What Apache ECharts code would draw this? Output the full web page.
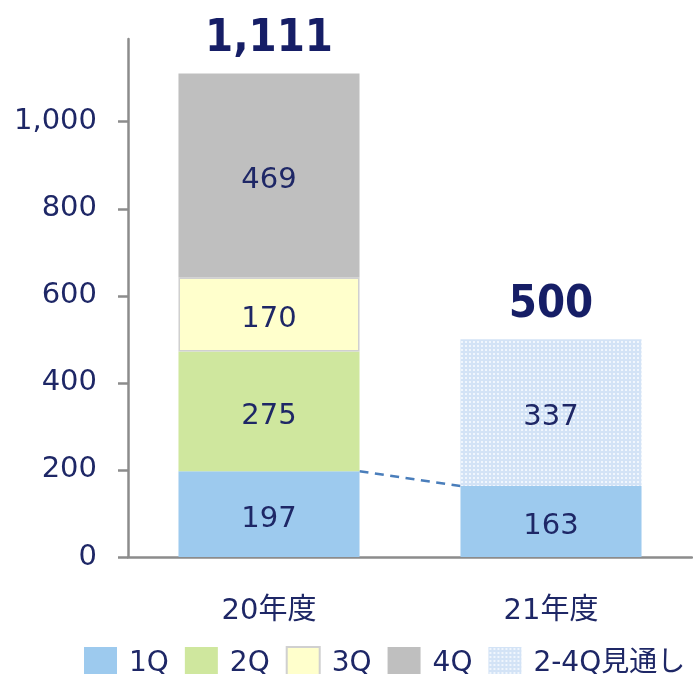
<!DOCTYPE html>
<html>
<head>
<meta charset="utf-8">
<script src="https://cdn.jsdelivr.net/npm/echarts@6/dist/echarts.min.js"></script>
<style>
html,body{margin:0;padding:0;background:#fff;}
#c{width:693px;height:674px;}
</style>
</head>
<body>
<div id="c"></div>
<script>
// ---- data ----
const categories = ['20年度', '21年度'];
const q1 = [197, 163];
const q2 = [275, null];
const q3 = [170, null];
const q4 = [469, null];
const outlook = [null, 337];
const totals = [1111, 500];
const yTicks = [0, 200, 400, 600, 800, 1000];
const legendNames = ['1Q', '2Q', '3Q', '4Q', '2-4Q見通し'];

// ---- style ----
const NAVY = '#1E2766';
const NAVY_BOLD = '#161E66';
const AXIS = '#8C8C8C';
const FONT = "'DejaVu Sans', 'Noto Sans CJK JP', sans-serif";
const BAR_RATIO = 0.642;

const pc = document.createElement('canvas');
pc.width = 4; pc.height = 4;
const px = pc.getContext('2d');
px.fillStyle = '#D3E3F6'; px.fillRect(0, 0, 4, 4);
px.fillStyle = '#F0F6FD'; px.fillRect(1, 1, 2, 2);
const patternColor = { image: pc, repeat: 'repeat' };

const chart = echarts.init(document.getElementById('c'), null, { renderer: 'canvas' });

const inLabel = {
  show: true, position: 'inside', color: NAVY, fontSize: 29, fontFamily: FONT,
  offset: [0, 5]
};

function barSeries(name, data, itemStyle) {
  return {
    name: name, type: 'bar', stack: 'total', data: data,
    barWidth: (BAR_RATIO * 100) + '%',
    itemStyle: itemStyle, label: inLabel, z: 3,
    emphasis: { disabled: true }
  };
}

chart.setOption({
  animation: false,
  backgroundColor: '#fff',
  grid: { left: 128, right: 1, top: 39, bottom: 117 },
  xAxis: [{
    type: 'category', data: categories,
    axisLine: { lineStyle: { color: AXIS, width: 2.5 } },
    axisTick: { length: 9, lineStyle: { color: AXIS, width: 2.5 } },
    axisLabel: { color: NAVY, fontSize: 29, fontFamily: FONT, margin: 40 }
  }, {
    type: 'value', min: 0, max: 2, show: false
  }],
  yAxis: {
    type: 'value', min: 0, max: 1190,
    splitLine: { show: false },
    axisLine: { show: true, lineStyle: { color: AXIS, width: 2.5 } },
    axisTick: { show: true, length: 10, customValues: yTicks, lineStyle: { color: AXIS, width: 2.5 } },
    axisLabel: {
      color: NAVY, fontSize: 29, fontFamily: FONT, margin: 31,
      customValues: yTicks,
      formatter: v => v.toLocaleString('en-US')
    }
  },
  legend: {
    data: legendNames, icon: 'rect', left: 84, top: 646, padding: 0,
    itemWidth: 33, itemHeight: 33, itemGap: 16,
    textStyle: { color: NAVY, fontSize: 28, fontFamily: FONT, padding: [0, 0, 0, 7] }
  },
  series: [
    {
      name: 'line', type: 'line', xAxisIndex: 1, z: 2, symbol: 'none',
      data: [[0.5 + BAR_RATIO / 2, q1[0]], [1.5 - BAR_RATIO / 2, q1[1]]],
      lineStyle: { color: '#4A7EBB', width: 2.5, type: [9, 6.5] },
      silent: true
    },
    barSeries('1Q', q1, { color: '#9DCAEE' }),
    barSeries('2Q', q2, { color: '#CFE79E' }),
    barSeries('3Q', q3, { color: '#FFFFCC', borderColor: '#D0D0D0', borderWidth: 1.5 }),
    barSeries('4Q', q4, { color: '#BFBFBF' }),
    barSeries('2-4Q見通し', outlook, { color: patternColor }),
    {
      name: 'total', type: 'scatter', data: totals, symbolSize: 1,
      itemStyle: { color: 'rgba(0,0,0,0)', opacity: 1 }, z: 4,
      label: {
        show: true, position: 'top', distance: 11, opacity: 1,
        color: NAVY_BOLD, fontSize: 45, fontWeight: 'bold',
        fontFamily: "'DejaVu Sans Condensed', 'DejaVu Sans', sans-serif",
        formatter: p => p.value.toLocaleString('en-US')
      },
      silent: true
    }
  ]
});
</script>
</body>
</html>
